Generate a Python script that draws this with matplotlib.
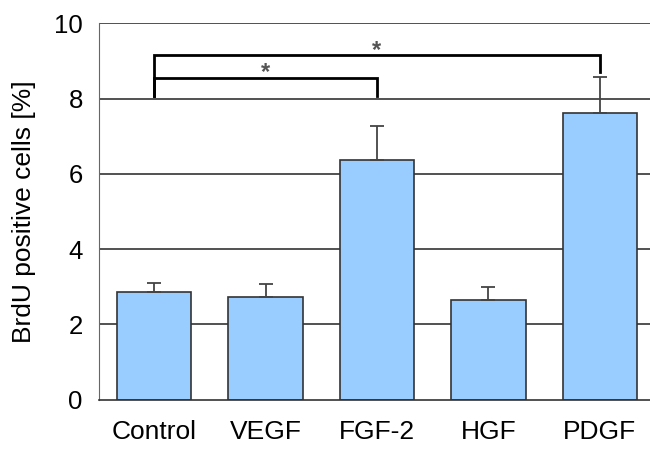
import numpy as np
import matplotlib.pyplot as plt

plt.rcParams['font.family'] = ['Liberation Sans', 'DejaVu Sans']

categorias = ['Control', 'VEGF', 'FGF-2', 'HGF', 'PDGF']
valores = [2.85, 2.72, 6.38, 2.65, 7.62]
errores = [0.25, 0.34, 0.88, 0.33, 0.95]
yticks = [0, 2, 4, 6, 8, 10]

# comparaciones significativas (desde, hasta, altura)
comparaciones = [(0, 2, 8.55), (0, 4, 9.15)]

fig = plt.figure(figsize=(6.5, 4.5), dpi=100)
ax = fig.add_axes([0.153, 0.112, 0.847, 0.836])

x = np.arange(len(categorias))
for y in yticks[1:]:
    ax.axhline(y, color='#333333', lw=1.2, zorder=1)

ax.bar(x, valores, width=0.67, color='#99ccff', edgecolor='#333333',
       linewidth=1.2, zorder=2)
ax.errorbar(x, valores, yerr=[np.zeros(len(errores)), errores], fmt='none',
            ecolor='#444444', elinewidth=1.3, capsize=5, capthick=1.3, zorder=3)

for a, b, h in comparaciones:
    fin_b = 8.08 if b == 2 else 8.72
    ax.plot([a, a, b, b], [8.08, h, h, fin_b], color='black', lw=2.0,
            solid_joinstyle='miter', zorder=4)
    ax.text((a + b) / 2, h - 0.17, '*', ha='center', va='bottom',
            fontsize=17, fontweight='bold', color='#555555')

ax.set_xlim(-0.49, 4.45)
ax.set_ylim(0, 10)
ax.set_xticks(x)
ax.set_xticklabels(categorias, fontsize=19)
ax.set_yticks(yticks)
ax.set_yticklabels([str(t) for t in yticks], fontsize=18.5)
ax.tick_params(axis='x', length=0, pad=15)
ax.tick_params(axis='y', length=0, pad=12)
ax.set_ylabel('BrdU positive cells [%]', fontsize=19)
ax.yaxis.set_label_coords(-0.115, 0.5)

ax.spines['top'].set_visible(False)
ax.spines['right'].set_visible(False)
ax.spines['left'].set_color('#666666')
ax.spines['bottom'].set_color('#333333')
ax.spines['bottom'].set_linewidth(1.2)

plt.savefig('out.png', dpi=100)
